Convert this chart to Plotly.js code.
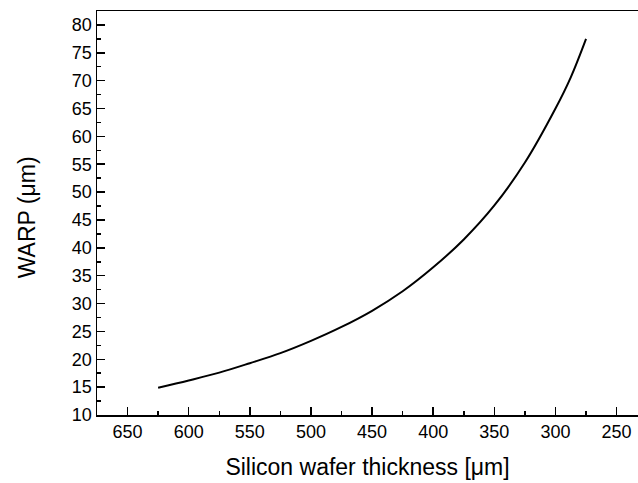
<!DOCTYPE html>
<html>
<head>
<meta charset="utf-8">
<script src="https://cdn.plot.ly/plotly-3.0.1.min.js"></script>
<style>html,body{margin:0;padding:0;background:#fff;}#chart{width:638px;height:483px;}</style>
</head>
<body>
<div id="chart"></div>
<script>
// Silicon wafer thickness (µm)
const thickness = [625, 600, 575, 550, 525, 500, 475, 450, 425, 400, 375, 350, 325, 300, 287.5, 275];
// WARP (µm)
const warp = [14.9, 16.2, 17.6, 19.3, 21.1, 23.3, 25.8, 28.7, 32.2, 36.5, 41.5, 47.6, 55.3, 65.0, 70.6, 77.5];

const xTickVals = [650, 600, 550, 500, 450, 400, 350, 300, 250];
const yTickVals = [10, 15, 20, 25, 30, 35, 40, 45, 50, 55, 60, 65, 70, 75, 80];

const font = "Liberation Sans, Arial, sans-serif";

const trace = {
  x: thickness, y: warp, type: 'scatter', mode: 'lines',
  line: {color: '#000', width: 2, shape: 'spline', smoothing: 1},
  hoverinfo: 'skip'
};

const layout = {
  width: 638, height: 483,
  margin: {l: 97, r: 0, t: 11, b: 68},
  paper_bgcolor: '#fff', plot_bgcolor: '#fff',
  showlegend: false,
  font: {family: font, size: 18, color: '#000'},
  xaxis: {
    range: [675, 232.5], autorange: false,
    tickvals: xTickVals, ticktext: xTickVals.map(String),
    ticks: 'inside', ticklen: 8, tickwidth: 1.5, tickcolor: '#000',
    minor: {ticks: 'inside', ticklen: 4, tickwidth: 1.5, tickcolor: '#000', dtick: 25, tick0: 0, showgrid: false},
    showline: true, linecolor: '#000', linewidth: 1.5, mirror: true,
    showgrid: false, zeroline: false,
    tickfont: {family: font, size: 18, color: '#000'},
    title: {text: 'Silicon wafer thickness [μm]', font: {family: font, size: 23, color: '#000'}, standoff: 18}
  },
  yaxis: {
    range: [10, 82.5], autorange: false,
    tickvals: yTickVals, ticktext: yTickVals.map(String),
    ticks: 'inside', ticklen: 8, tickwidth: 1.5, tickcolor: '#000',
    minor: {ticks: 'inside', ticklen: 4, tickwidth: 1.5, tickcolor: '#000', dtick: 2.5, tick0: 0, showgrid: false},
    showline: true, linecolor: '#000', linewidth: 1.5, mirror: false,
    showgrid: false, zeroline: false,
    tickfont: {family: font, size: 18, color: '#000'}
  },
  annotations: [{
    text: 'WARP (μm)', textangle: -90,
    xref: 'paper', yref: 'paper', x: -0.129, y: 0.49,
    xanchor: 'center', yanchor: 'middle', showarrow: false,
    font: {family: font, size: 23, color: '#000'}
  }]
};

Plotly.newPlot('chart', [trace], layout, {displayModeBar: false, staticPlot: true});
</script>
</body>
</html>
